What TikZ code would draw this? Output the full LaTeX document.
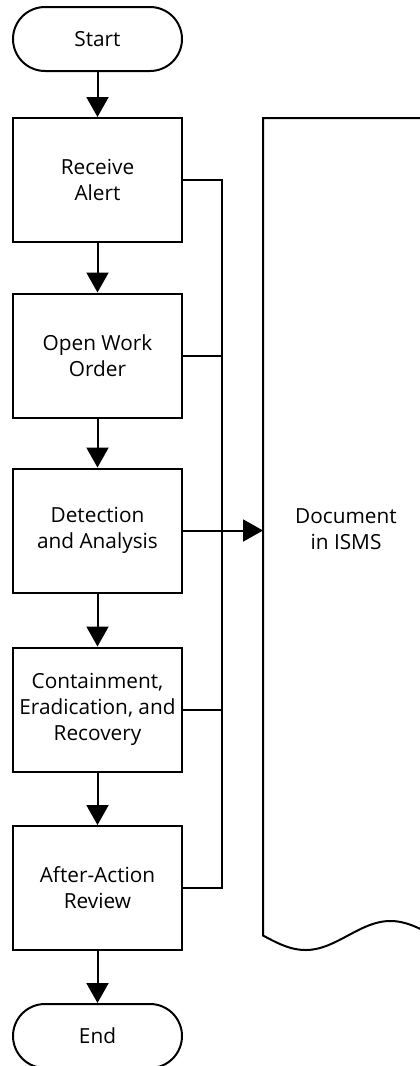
\documentclass[tikz,border=0pt]{standalone}
\usepackage{fontspec}
\setmainfont{Open Sans}
\usetikzlibrary{arrows.meta,shapes.misc}

\tikzset{
  lbl/.style={font=\fontsize{20.8}{26}\selectfont, align=center, text=black},
  procbox/.style={lbl, draw, rectangle, minimum width=169pt, minimum height=124pt, inner sep=0pt},
  term/.style={lbl, draw, rounded rectangle, minimum width=169pt, minimum height=64pt, inner sep=0pt},
  flow/.style={-{Triangle[length=20pt,width=22pt]}}
}

\begin{document}
\begin{tikzpicture}[x=1pt, y=-1pt, line width=2pt]
  \useasboundingbox (0,0) rectangle (420,1066);
  \clip (0,0) rectangle (420,1066);

  % main process column
  \node[term]    (start) at (97.5,39)    {Start};
  \node[procbox] (rec)   at (97.5,180)   {Receive\\Alert};
  \node[procbox] (wo)    at (97.5,355.5) {Open Work\\Order};
  \node[procbox] (det)   at (97.5,530.5) {Detection\\and Analysis};
  \node[procbox] (cer)   at (97.5,709.5) {Containment,\\Eradication, and\\Recovery};
  \node[procbox] (aar)   at (97.5,888)   {After-Action\\Review};
  \node[term]    (end)   at (97.5,1036)  {End};

  \draw[flow] (start) -- (rec);
  \draw[flow] (rec) -- (wo);
  \draw[flow] (wo) -- (det);
  \draw[flow] (det) -- (cer);
  \draw[flow] (cer) -- (aar);
  \draw[flow] (aar) -- (end);

  % document shape with wavy bottom edge
  \draw plot[domain=170:0, samples=80] ({\x+263}, {935.5+14.5*sin(2.117647*\x)})
        -- (263,118) -- (433,118) -- cycle;
  \node[lbl] (doc) at (346,529) {Document\\in ISMS};
  \coordinate (docin) at (263,530.5);

  % collecting bus from every step into the document
  \coordinate (bustop) at (222,180);
  \coordinate (busbot) at (222,888);
  \draw (rec.east) -- (bustop) -- (busbot) -- (aar.east);
  \draw (wo.east) -- (wo.east -| bustop);
  \draw (cer.east) -- (cer.east -| bustop);
  \draw[flow] (det.east) -- (docin);
\end{tikzpicture}
\end{document}
